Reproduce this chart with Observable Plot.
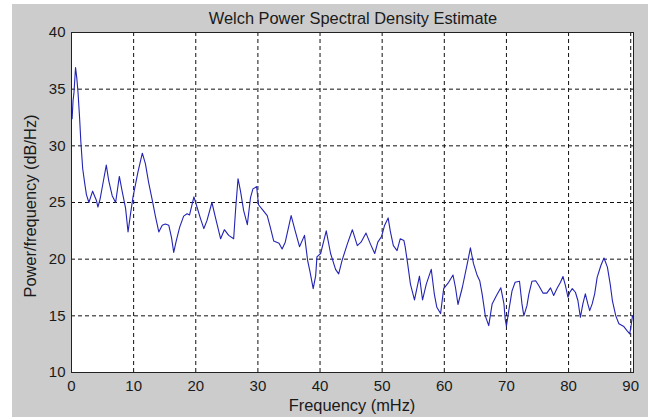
<!DOCTYPE html>
<html>
<head>
<meta charset="utf-8">
<script src="https://cdn.jsdelivr.net/npm/d3@7"></script>
<script src="https://cdn.jsdelivr.net/npm/@observablehq/plot@0.6"></script>
<style>
  html, body { margin: 0; padding: 0; background: #ffffff; }
  #fig { position: relative; width: 648px; height: 417px; overflow: hidden; }
  #bg { position: absolute; left: 12px; top: 4px; width: 636px; height: 413px; background: #cccccc; }
  #chart { position: absolute; left: 0; top: 0; }
  .lbl { position: absolute; font-family: "Liberation Sans", Arial, sans-serif; font-size: 16.4px; line-height: 16px; color: #1a1a1a; white-space: nowrap; }
</style>
</head>
<body>
<div id="fig">
  <div id="bg"></div>
  <div id="chart"></div>
  <div class="lbl" id="title" style="left:353px; top:10px; transform:translateX(-50%);">Welch Power Spectral Density Estimate</div>
  <div class="lbl" id="xlab" style="left:352px; top:397px; transform:translateX(-50%);">Frequency (mHz)</div>
  <div class="lbl" id="ylab" style="left:30px; top:206px; transform:translate(-50%,-50%) rotate(-90deg);">Power/frequency (dB/Hz)</div>
</div>
<script>
// Frequency (mHz) and power (dB/Hz)
const freq = [0.1,0.25,0.4,0.65,0.85,1.05,1.3,1.5,1.8,2.1,2.4,2.8,3.4,4.0,4.25,4.6,5.0,5.6,6.0,6.55,7.1,7.7,8.15,8.7,9.1,9.5,9.9,10.3,10.7,11.4,11.9,12.4,13.0,13.5,14.05,14.6,15.1,15.65,16.1,16.45,16.85,17.4,18.05,18.6,19.0,19.7,20.2,20.75,21.3,21.8,22.6,23.2,24.0,24.6,25.3,26.1,26.4,26.8,27.2,27.7,28.3,28.8,29.2,29.8,30.1,30.7,31.5,32.0,32.55,33.4,33.9,34.4,35.35,36.0,36.7,37.5,38.0,38.4,38.9,39.3,39.5,40.1,41.0,41.7,42.5,43.0,43.55,44.4,45.2,46.0,46.6,47.4,48.1,48.8,49.3,49.9,50.4,50.96,51.3,51.8,52.4,52.9,53.5,53.7,54.1,54.55,55.2,56.0,56.5,57.1,57.9,58.4,58.8,59.4,59.9,60.7,61.4,61.8,62.2,62.9,63.7,64.2,64.7,65.3,65.7,66.1,66.6,67.15,67.7,68.4,69.1,69.6,69.8,70.0,70.3,70.9,71.4,72.1,72.5,72.8,73.3,73.6,74.1,74.7,75.2,75.9,76.5,77.1,77.6,78.2,78.7,79.1,79.5,79.9,80.2,80.6,81.1,81.5,81.9,82.3,82.7,83.1,83.4,83.8,84.2,84.6,85.2,85.7,86.25,86.7,87.05,87.6,88.1,88.9,89.4,89.85,90.1,90.3];
const power = [32.4,34.0,34.7,36.9,36.0,34.7,32.5,30.4,28.0,26.8,25.7,25.0,26.0,25.2,24.6,25.3,26.5,28.3,26.9,25.6,25.0,27.3,26.0,24.5,22.4,24.0,25.5,26.6,27.7,29.35,28.4,26.8,25.2,23.8,22.4,23.0,23.1,23.0,21.9,20.6,21.6,22.8,23.8,24.0,23.9,25.5,24.6,23.6,22.7,23.4,25.0,23.6,21.8,22.6,22.1,21.8,24.3,27.1,26.0,24.3,23.05,25.4,26.2,26.4,24.8,24.4,23.85,22.8,21.6,21.4,20.9,21.5,23.85,22.5,21.1,22.1,19.9,18.85,17.4,18.55,20.2,20.5,22.5,20.5,19.1,18.7,19.9,21.35,22.6,21.2,21.5,22.3,21.35,20.5,21.5,22.0,23.0,23.64,22.5,21.2,20.76,21.8,21.64,21.1,19.6,17.8,16.4,18.5,16.4,17.8,19.1,16.9,15.75,15.2,17.4,17.96,18.6,17.5,16.0,17.5,19.6,21.0,19.6,18.55,18.1,16.9,15.0,14.14,16.05,16.8,17.47,16.05,14.7,14.1,15.2,17.2,17.96,18.05,16.05,15.0,15.9,16.9,18.05,18.1,17.67,17.0,17.0,17.47,16.8,17.47,17.96,18.47,17.67,16.64,17.08,17.4,17.08,16.35,14.87,16.05,16.94,16.05,15.46,16.05,16.94,18.4,19.44,20.1,19.3,17.8,16.35,15.0,14.3,14.05,13.7,13.4,14.3,15.0];
const xTicks = [0,10,20,30,40,50,60,70,80,90];
const yTicks = [10,15,20,25,30,35,40];

const data = freq.map((f, i) => ({f, p: power[i]}));

const chart = Plot.plot({
  width: 648,
  height: 417,
  marginLeft: 71,
  marginRight: 15,
  marginTop: 32,
  marginBottom: 45,
  style: {background: "transparent", fontFamily: "'Liberation Sans', Arial, sans-serif", fontSize: "15px", color: "#1a1a1a"},
  x: {domain: [0, 90.45]},
  y: {domain: [10, 40]},
  marks: [
    Plot.frame({fill: "white", stroke: "none"}),
    Plot.ruleX(xTicks.filter(d => d > 0), {stroke: "#111", strokeDasharray: "4,3", strokeWidth: 1}),
    Plot.ruleY(yTicks.filter(d => d > 10 && d < 40), {stroke: "#111", strokeDasharray: "4,3", strokeWidth: 1}),
    Plot.line(data, {x: "f", y: "p", stroke: "#2323b4", strokeWidth: 1.1}),
    Plot.frame({stroke: "#222", strokeWidth: 1}),
    Plot.axisX({ticks: xTicks, tickSize: 0, tickPadding: 8, label: null, fontSize: 15}),
    Plot.axisY({ticks: yTicks, tickSize: 0, tickPadding: 6, label: null, fontSize: 15})
  ]
});
document.getElementById("chart").appendChild(chart);
</script>
</body>
</html>
